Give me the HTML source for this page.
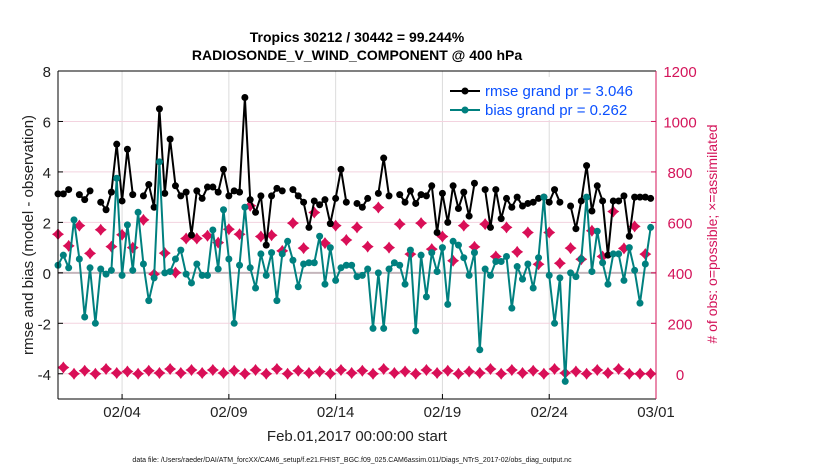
<!DOCTYPE html>
<html><head><meta charset="utf-8"><style>
html,body{margin:0;padding:0;background:#fff;}
svg{display:block;font-family:"Liberation Sans",Arial,sans-serif;}
</style></head><body>
<svg id="chart" width="830" height="470" viewBox="0 0 830 470" xmlns="http://www.w3.org/2000/svg">
<rect width="830" height="470" fill="#fff"/>
<text x="357" y="42" text-anchor="middle" font-size="14" font-weight="bold">Tropics 30212 / 30442 = 99.244%</text>
<text x="357" y="60" text-anchor="middle" font-size="14" font-weight="bold">RADIOSONDE_V_WIND_COMPONENT @ 400 hPa</text>
<g id="grid"></g>
<g id="marks"></g>
<g id="axes"></g>
<text transform="translate(33,235) rotate(-90)" text-anchor="middle" font-size="15" fill="#222">rmse and bias (model - observation)</text>
<text transform="translate(717,234) rotate(-90)" text-anchor="middle" font-size="14" fill="#d4145a"># of obs: o=possible; ×=assimilated</text>
<text x="357" y="441" text-anchor="middle" font-size="15" fill="#222">Feb.01,2017 00:00:00 start</text>
<text x="352" y="462" text-anchor="middle" font-size="7" fill="#111">data file: /Users/raeder/DAI/ATM_forcXX/CAM6_setup/f.e21.FHIST_BGC.f09_025.CAM6assim.011/Diags_NTrS_2017-02/obs_diag_output.nc</text>
<g>
<rect x="443" y="77" width="208" height="43" fill="#fff"/>
<line x1="450" y1="91" x2="480" y2="91" stroke="#000" stroke-width="2"/>
<circle cx="465" cy="91" r="3.5" fill="#000"/>
<text x="485" y="96" font-size="15" fill="#0a50ff">rmse grand pr = 3.046</text>
<line x1="450" y1="110" x2="480" y2="110" stroke="#00807f" stroke-width="2"/>
<circle cx="465" cy="110" r="3.5" fill="#00807f"/>
<text x="485" y="115" font-size="15" fill="#0a50ff">bias grand pr = 0.262</text>
</g>
</svg>
<script>
const rmse = [3.13,3.13,3.3,null,3.1,2.9,3.25,null,2.8,2.5,3.2,5.1,2.85,4.9,3.1,null,3.05,3.5,2.6,6.5,3.15,5.3,3.45,3.05,3.2,1.5,3.25,2.95,3.4,
3.4,3.2,4.1,3.05,3.25,3.2,6.95,2.9,2.4,3.05,1.1,3.05,3.35,3.25,null,3.3,3.05,2.8,1.8,2.85,2.7,2.9,1.95,2.95,4.1,2.8,null,2.75,
2.6,2.95,null,3.15,4.55,3.05,null,3.1,2.8,3.25,2.75,3.1,3.05,3.45,1.6,3.15,2.0,3.45,2.55,3.2,2.25,3.55,null,3.3,1.8,3.3,2.15,2.95,
2.6,3.0,2.65,2.75,2.8,2.95,3.0,2.8,3.3,2.8,null,2.65,1.75,2.85,4.25,2.45,3.45,2.85,0.7,2.85,2.85,3.05,1.45,3.0,3.0,3.0,2.95];
const bias = [0.3,0.7,0.2,2.1,0.55,-1.75,0.2,-2.0,0.15,-0.05,0.1,3.75,-0.1,1.9,0.1,2.4,0.35,-1.1,-0.2,4.4,0.0,0.05,0.55,0.9,-0.05,-0.4,0.35,-0.1,-0.1,
1.7,0.15,2.5,0.55,-2.0,0.3,2.6,0.2,-0.6,0.75,-0.1,0.8,-1.1,0.75,1.25,0.5,-0.55,0.35,0.4,0.4,1.45,-0.45,1.0,-0.3,0.2,0.3,0.3,-0.15,
-0.1,0.15,-2.2,0.0,-2.2,0.15,0.4,0.3,-0.45,0.9,-2.3,0.7,-0.95,0.8,0.05,1.0,-1.25,1.25,1.1,0.6,-0.1,0.8,-3.05,0.15,-0.1,0.45,0.45,0.65,
-1.4,0.25,-0.25,0.35,-0.6,0.6,3.0,-0.1,-2.0,-0.2,-4.3,0.0,-0.15,0.55,3.0,0.05,1.65,0.4,-0.45,0.75,0.75,-0.3,1.0,0.1,-1.2,0.35,1.8];
const possible = [553,507,587,477,571,504,551,500,610,395,478,401,536,536,547,520,573,553,666,544,549,487,597,498,639,518,587,530,580,
504,659,500,593,474,597,494,544,448,587,503,593,465,580,483,560,434,560,438,498,454,567,465,643,497,584,474];
const assimilated = [25,0,12,0,19,3,9,0,12,3,19,3,15,3,15,3,12,0,15,0,19,0,12,3,9,0,15,3,
12,0,19,3,9,0,15,3,12,0,9,3,19,0,15,3,12,0,19,3,9,0,15,3,19,0,0,0];
const xTicks = [3,8,13,18,23,28];
const xTickLabels = ["02/04","02/09","02/14","02/19","02/24","03/01"];
const yTicks = [-4,-2,0,2,4,6,8];
const rTicks = [0,200,400,600,800,1000,1200];

const L=58,R=656,T=71,B=399,DAYS=28,YMIN=-5,YMAX=8;
const xDay = d => L + d/DAYS*(R-L);
const xIdx = i => xDay(i*0.25);
const yL = v => B - (v-YMIN)/(YMAX-YMIN)*(B-T);
const yR = r => yL(r/100-4);
const NS="http://www.w3.org/2000/svg";
function mk(tag, attrs, parent){const e=document.createElementNS(NS,tag);for(const k in attrs)e.setAttribute(k,attrs[k]);parent.appendChild(e);return e;}
const grid=document.getElementById('grid'), marks=document.getElementById('marks'), axes=document.getElementById('axes');

xTicks.forEach((d,i)=>{
  const l=mk('line',{x1:xDay(d),x2:xDay(d),y1:T,y2:B,stroke:'#dcdcdc','stroke-width':1},grid);
  
  
  const t=mk('line',{x1:xDay(d),x2:xDay(d),y1:B,y2:B-5,stroke:'#000'},axes);
  
  
  const tx=mk('text',{x:xDay(d),y:B+18,'text-anchor':'middle','font-size':15,fill:'#222'},axes);
  tx.textContent=xTickLabels[i];
  
  
});
yTicks.forEach(v=>{
  const l=mk('line',{x1:L,x2:R,y1:yL(v),y2:yL(v),stroke:'#f3d3df','stroke-width':1},grid);
  
  
  const tx=mk('text',{x:L-7,y:yL(v)+6,'text-anchor':'end','font-size':15,fill:'#222'},axes);
  tx.textContent=String(v);
  
  
  const t=mk('line',{x1:L,x2:L+5,y1:yL(v),y2:yL(v),stroke:'#000'},axes);
  
  
});
rTicks.forEach(r=>{
  const tx=mk('text',{x:680,y:yR(r)+6,'text-anchor':'middle','font-size':15,fill:'#d4145a'},axes);
  tx.textContent=String(r);
  
  
  const t=mk('line',{x1:R,x2:R-5,y1:yR(r),y2:yR(r),stroke:'#d4145a'},axes);
  
  
});
const zl=mk('line',{x1:L,x2:R,y1:yL(0),y2:yL(0),stroke:'#c4b6bc','stroke-width':2},grid);



function star(x,y,name){
  const g=mk('g',{},marks);
  
  
  mk('path',{d:`M${x},${y-6} L${x+2.5},${y-2.5} L${x+6},${y} L${x+2.5},${y+2.5} L${x},${y+6} L${x-2.5},${y+2.5} L${x-6},${y} L${x-2.5},${y-2.5} Z`,fill:'#d90f57'},g);
  mk('circle',{cx:x,cy:y,r:3.8,fill:'#d90f57'},g);
}
possible.forEach((r,j)=>star(xIdx(2*j),yR(r),'possible-marker'));
assimilated.forEach((r,j)=>star(xIdx(2*j+1),yR(r),'assimilated-marker'));

function series(vals,color,name){
  let d='';let pen=false;
  vals.forEach((v,i)=>{ if(v===null){pen=false;return;} d+=(pen?'L':'M')+xIdx(i).toFixed(1)+','+yL(v).toFixed(1)+' '; pen=true;});
  const p=mk('path',{d:d,fill:'none',stroke:color,'stroke-width':2,'stroke-linejoin':'round'},marks);
  
  
  vals.forEach((v,i)=>{ if(v===null)return;
    const c=mk('circle',{cx:xIdx(i),cy:yL(v),r:3.5,fill:color},marks);
    
    
  });
}
series(rmse,'#000','rmse');
series(bias,'#00807f','bias');

const la=mk('line',{x1:L,x2:L,y1:T,y2:B,stroke:'#000','stroke-width':1},axes);


const ba=mk('line',{x1:L,x2:R,y1:B,y2:B,stroke:'#000','stroke-width':1},axes);


const ta=mk('line',{x1:L,x2:R,y1:T,y2:T,stroke:'#000','stroke-width':1},axes);


const ra=mk('line',{x1:R,x2:R,y1:T,y2:B,stroke:'#d4145a','stroke-width':1},axes);


</script>
</body></html>
